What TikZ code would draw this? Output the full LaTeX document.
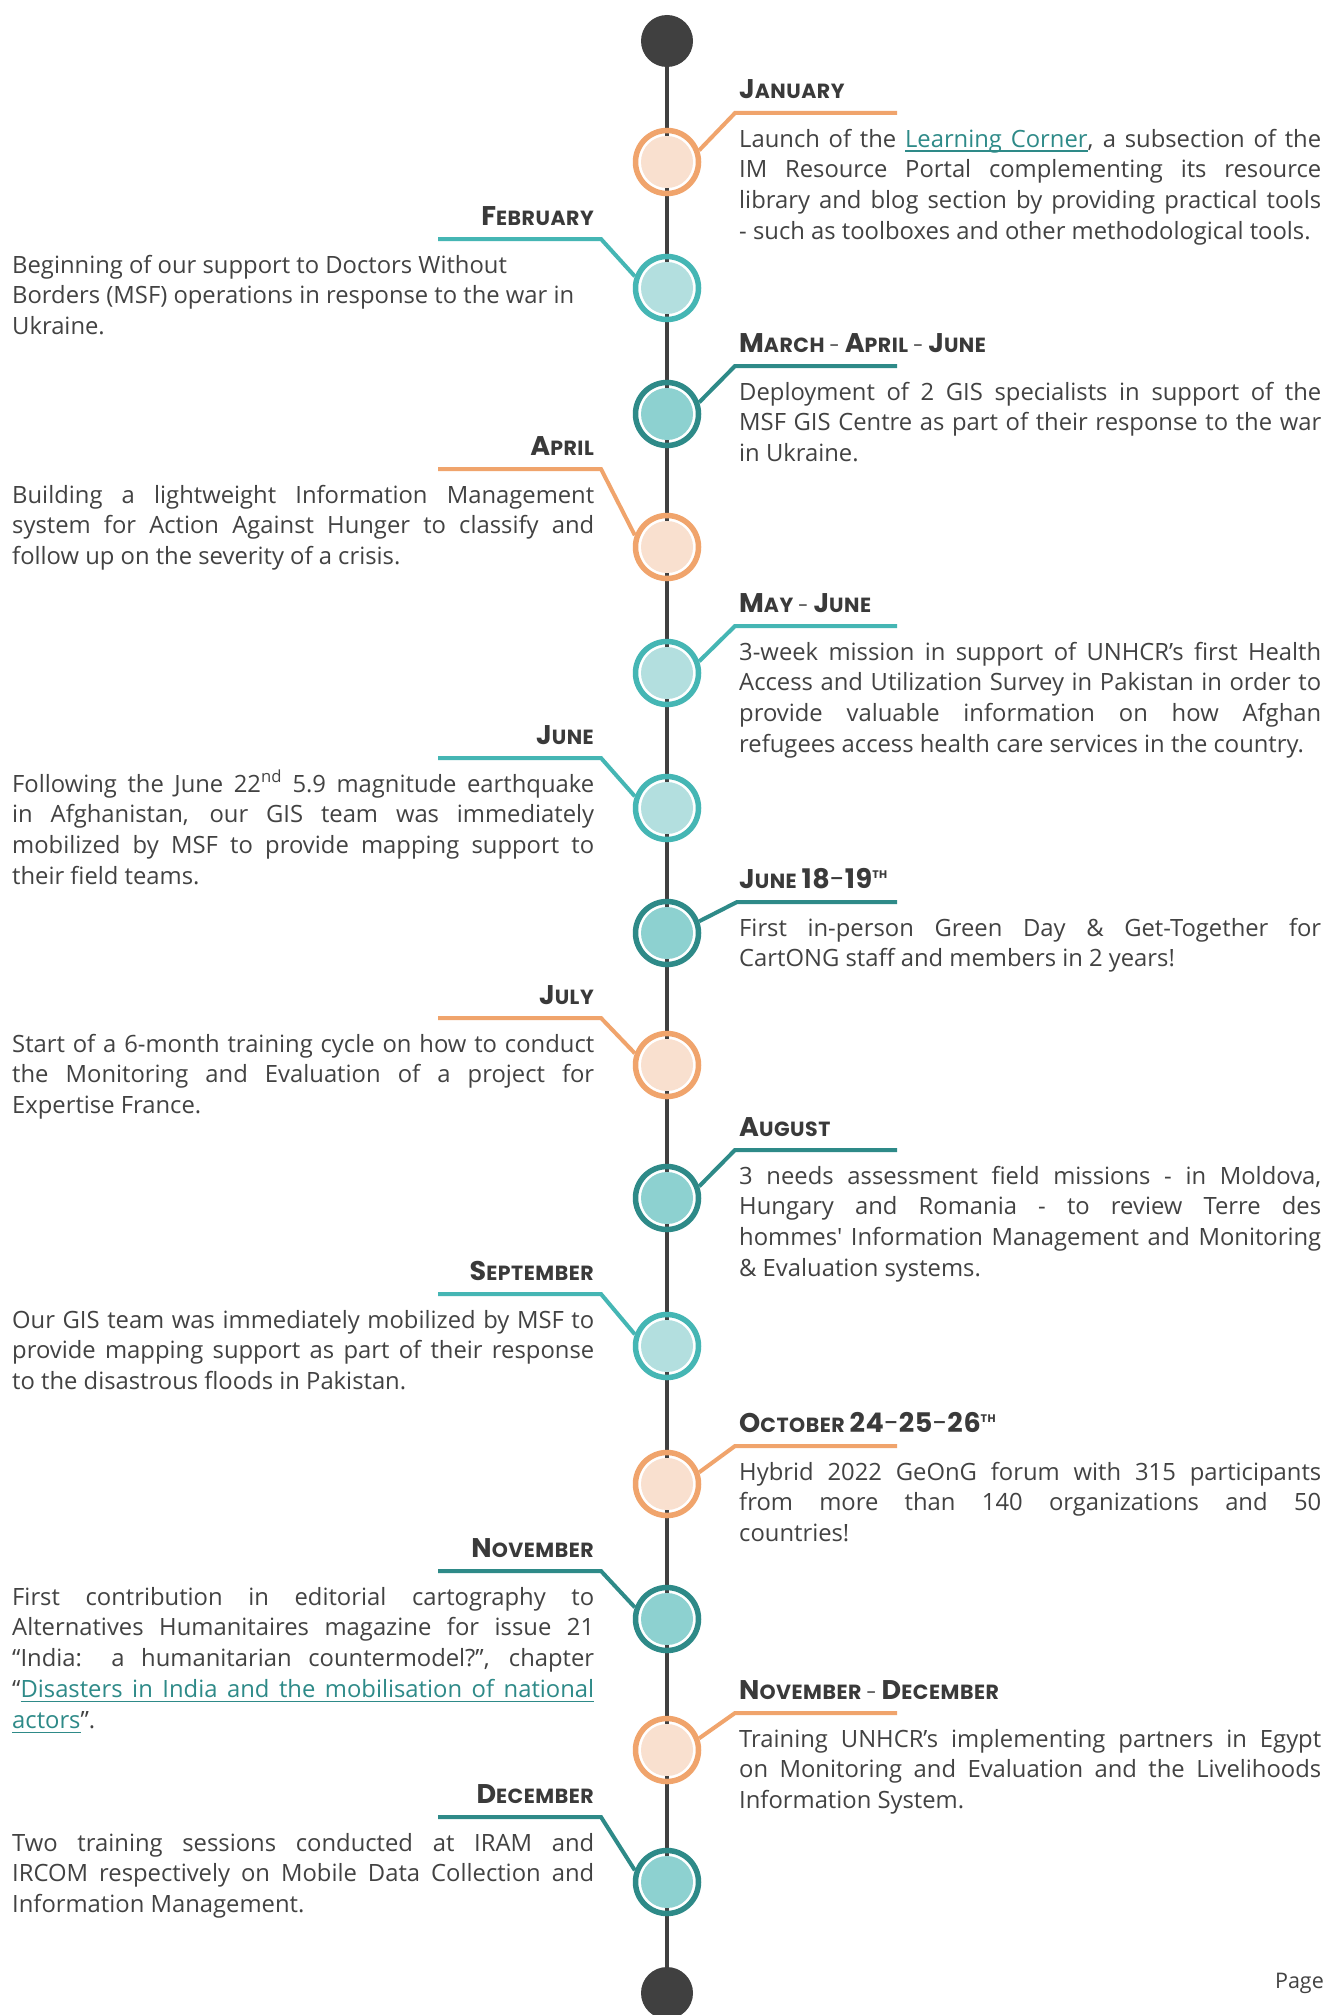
\documentclass[tikz,border=0pt]{standalone}
\usepackage{fontspec}
\setmainfont{Open Sans}
\newfontfamily\titlefont[LetterSpace=2.5]{Poppins}
\definecolor{txt}{HTML}{424242}
\definecolor{ttl}{HTML}{3A3A3A}
\definecolor{dk}{HTML}{404040}
\definecolor{oring}{HTML}{F0A46C}
\definecolor{ofill}{HTML}{F9E0CF}
\definecolor{lring}{HTML}{45B6B4}
\definecolor{lfill}{HTML}{B3DFDF}
\definecolor{dring}{HTML}{2E8A88}
\definecolor{dfill}{HTML}{8DD1D0}
\newcommand\bodyfnt{\fontsize{23.8}{30.8}\selectfont\hyphenpenalty=10000\exhyphenpenalty=10000\tolerance=10000}
\newcommand\titlefnt{\titlefont\bfseries\fontsize{20.5}{20.5}\selectfont}
\newcommand\TBg[1]{{\fontsize{27}{27}\selectfont #1}}
\newcommand\TSm[1]{{\fontsize{20.5}{20.5}\selectfont #1}}
\newcommand\TDash{{\mdseries\fontsize{19}{19}\selectfont -}}
\newcommand\TSup{\raisebox{10pt}{\fontsize{11}{11}\selectfont TH}}
% underlined link pieces
\newcommand\uw[1]{\setbox0\hbox{#1}\rlap{\rule[-5pt]{\wd0}{1.7pt}}\box0}
\newcommand\us{\leaders\hrule height -3.3pt depth 5pt\hskip 0.26em plus 0.13em minus 0.08em}
\tikzset{
  ring/.style={circle, minimum size=63pt, inner sep=0pt, line width=5.5pt, draw=#1},
  dotc/.style={circle, minimum size=52pt, inner sep=0pt, fill=#1},
  endc/.style={circle, minimum size=52pt, inner sep=0pt, fill=dk},
  tline/.style={line width=4.6pt, draw=dk},
  conn/.style={line width=4pt, draw=#1, line join=miter},
  rtitle/.style={anchor=base west, inner sep=0pt, text=ttl, font=\titlefnt},
  ltitle/.style={anchor=base east, inner sep=0pt, text=ttl, font=\titlefnt},
  body/.style={anchor=base west, inner sep=0pt, text width=582pt, align=justify, text=txt, font=\bodyfnt},
}
\begin{document}
\begin{tikzpicture}[x=1pt,y=-1pt]
\fill[white] (0,0) rectangle (1325,2015);
\useasboundingbox (0,0) rectangle (1325,2015);
% timeline
\node[endc] (top) at (667,41) {};
\node[endc] (bot) at (667,1993) {};
\draw[tline] (top) -- (bot);
% rings
\node[ring=oring] (r1) at (667,162) {};
\node[ring=lring] (r2) at (667,288) {};
\node[ring=dring] (r3) at (667,414) {};
\node[ring=oring] (r4) at (667,547) {};
\node[ring=lring] (r5) at (667,673) {};
\node[ring=lring] (r6) at (667,808) {};
\node[ring=dring] (r7) at (667,933) {};
\node[ring=oring] (r8) at (667,1065) {};
\node[ring=dring] (r9) at (667,1198) {};
\node[ring=lring] (r10) at (667,1346) {};
\node[ring=oring] (r11) at (667,1484) {};
\node[ring=dring] (r12) at (667,1619) {};
\node[ring=oring] (r13) at (667,1750) {};
\node[ring=dring] (r14) at (667,1882) {};
% fills
\node[dotc=ofill] (f1) at (r1) {};
\node[dotc=lfill] (f2) at (r2) {};
\node[dotc=dfill] (f3) at (r3) {};
\node[dotc=ofill] (f4) at (r4) {};
\node[dotc=lfill] (f5) at (r5) {};
\node[dotc=lfill] (f6) at (r6) {};
\node[dotc=dfill] (f7) at (r7) {};
\node[dotc=ofill] (f8) at (r8) {};
\node[dotc=dfill] (f9) at (r9) {};
\node[dotc=lfill] (f10) at (r10) {};
\node[dotc=ofill] (f11) at (r11) {};
\node[dotc=dfill] (f12) at (r12) {};
\node[dotc=ofill] (f13) at (r13) {};
\node[dotc=dfill] (f14) at (r14) {};
% connector points
\coordinate (e1) at (897,113);  \coordinate (k1) at (735,113);
\coordinate (e2) at (438,239);  \coordinate (k2) at (601,239);
\coordinate (e3) at (897,366);  \coordinate (k3) at (735,366);
\coordinate (e4) at (438,469);  \coordinate (k4) at (601,469);
\coordinate (e5) at (897,626);  \coordinate (k5) at (735,626);
\coordinate (e6) at (438,758);  \coordinate (k6) at (601,758);
\coordinate (e7) at (897,902);  \coordinate (k7) at (737,902);
\coordinate (e8) at (438,1018); \coordinate (k8) at (601,1018);
\coordinate (e9) at (897,1150); \coordinate (k9) at (735,1150);
\coordinate (e10) at (438,1294); \coordinate (k10) at (601,1294);
\coordinate (e11) at (897,1446); \coordinate (k11) at (735,1446);
\coordinate (e12) at (438,1571); \coordinate (k12) at (601,1571);
\coordinate (e13) at (897,1713); \coordinate (k13) at (735,1713);
\coordinate (e14) at (438,1817); \coordinate (k14) at (601,1817);
\draw[conn=oring] (e1) -- (k1) -- (r1.20);
\draw[conn=lring] (e2) -- (k2) -- (r2.160);
\draw[conn=dring] (e3) -- (k3) -- (r3.20);
\draw[conn=oring] (e4) -- (k4) -- (r4.160);
\draw[conn=lring] (e5) -- (k5) -- (r5.20);
\draw[conn=lring] (e6) -- (k6) -- (r6.160);
\draw[conn=dring] (e7) -- (k7) -- (r7.20);
\draw[conn=oring] (e8) -- (k8) -- (r8.160);
\draw[conn=dring] (e9) -- (k9) -- (r9.20);
\draw[conn=lring] (e10) -- (k10) -- (r10.160);
\draw[conn=oring] (e11) -- (k11) -- (r11.20);
\draw[conn=dring] (e12) -- (k12) -- (r12.160);
\draw[conn=oring] (e13) -- (k13) -- (r13.20);
\draw[conn=dring] (e14) -- (k14) -- (r14.160);
% titles
\node[rtitle] (t1) at (739,99) {\TBg{J}\TSm{ANUARY}};
\node[ltitle] (t2) at (594,225) {\TBg{F}\TSm{EBRUARY}};
\node[rtitle] (t3) at (739,352) {\TBg{M}\TSm{ARCH} \TDash{} \TBg{A}\TSm{PRIL} \TDash{} \TBg{J}\TSm{UNE}};
\node[ltitle] (t4) at (594,455) {\TBg{A}\TSm{PRIL}};
\node[rtitle] (t5) at (739,612) {\TBg{M}\TSm{AY} \TDash{} \TBg{J}\TSm{UNE}};
\node[ltitle] (t6) at (594,744) {\TBg{J}\TSm{UNE}};
\node[rtitle] (t7) at (739,888) {\TBg{J}\TSm{UNE} \TBg{18{\mdseries-}19}\TSup};
\node[ltitle] (t8) at (594,1004) {\TBg{J}\TSm{ULY}};
\node[rtitle] (t9) at (739,1136) {\TBg{A}\TSm{UGUST}};
\node[ltitle] (t10) at (594,1280) {\TBg{S}\TSm{EPTEMBER}};
\node[rtitle] (t11) at (739,1432) {\TBg{O}\TSm{CTOBER} \TBg{24{\mdseries-}25{\mdseries-}26}\TSup};
\node[ltitle] (t12) at (594,1557) {\TBg{N}\TSm{OVEMBER}};
\node[rtitle] (t13) at (739,1699) {\TBg{N}\TSm{OVEMBER} \TDash{} \TBg{D}\TSm{ECEMBER}};
\node[ltitle] (t14) at (594,1803) {\TBg{D}\TSm{ECEMBER}};
% texts
\node[body] (x1) at (739,147) {Launch of the {\color{dring}\uw{Learning}\us\uw{Corner}}, a subsection of the\linebreak IM Resource Portal complementing its resource\linebreak library and blog section by providing practical tools\linebreak - such as toolboxes and other methodological tools.};
\node[body] (x2) at (12,273) {Beginning of our support to Doctors Without\newline Borders (MSF) operations in response to the war in\newline Ukraine.};
\node[body] (x3) at (739,400) {Deployment of 2 GIS specialists in support of the\linebreak MSF GIS Centre as part of their response to the war\linebreak in Ukraine.};
\node[body] (x4) at (12,503) {Building a lightweight Information Management\linebreak system for Action Against Hunger to classify and\linebreak follow up on the severity of a crisis.};
\node[body] (x5) at (739,660) {3-week mission in support of UNHCR’s first Health\linebreak Access and Utilization Survey in Pakistan in order to\linebreak provide valuable information on how Afghan\linebreak refugees access health care services in the country.};
\node[body] (x6) at (12,792) {Following the June 22\textsuperscript{nd} 5.9 magnitude earthquake\linebreak in Afghanistan, our GIS team was immediately\linebreak mobilized by MSF to provide mapping support to\linebreak their field teams.};
\node[body] (x7) at (739,936) {First in-person Green Day \& Get-Together for\linebreak CartONG staff and members in 2 years!};
\node[body] (x8) at (12,1052) {Start of a 6-month training cycle on how to conduct\linebreak the Monitoring and Evaluation of a project for\linebreak Expertise France.};
\node[body] (x9) at (739,1184) {3 needs assessment field missions - in Moldova,\linebreak Hungary and Romania - to review Terre des\linebreak hommes\textquotesingle{} Information Management and Monitoring\linebreak \& Evaluation systems.};
\node[body] (x10) at (12,1328) {Our GIS team was immediately mobilized by MSF to\linebreak provide mapping support as part of their response\linebreak to the disastrous floods in Pakistan.};
\node[body] (x11) at (739,1480) {Hybrid 2022 GeOnG forum with 315 participants\linebreak from more than 140 organizations and 50\linebreak countries!};
\node[body] (x12) at (12,1605) {First contribution in editorial cartography to\linebreak Alternatives Humanitaires magazine for issue 21\linebreak “India: a humanitarian countermodel?”, chapter\linebreak “{\color{dring}\uw{Disasters}\us\uw{in}\us\uw{India}\us\uw{and}\us\uw{the}\us\uw{mobilisation}\us\uw{of}\us\uw{national}}\linebreak {\color{dring}\uw{actors}}”.};
\node[body] (x13) at (739,1747) {Training UNHCR’s implementing partners in Egypt\linebreak on Monitoring and Evaluation and the Livelihoods\linebreak Information System.};
\node[body] (x14) at (12,1851) {Two training sessions conducted at IRAM and\linebreak IRCOM respectively on Mobile Data Collection and\linebreak Information Management.};
\node[anchor=base east, inner sep=0pt, text=txt, font=\fontsize{21.5}{26}\selectfont] (pg) at (1324,1988) {Page};
\end{tikzpicture}
\end{document}
